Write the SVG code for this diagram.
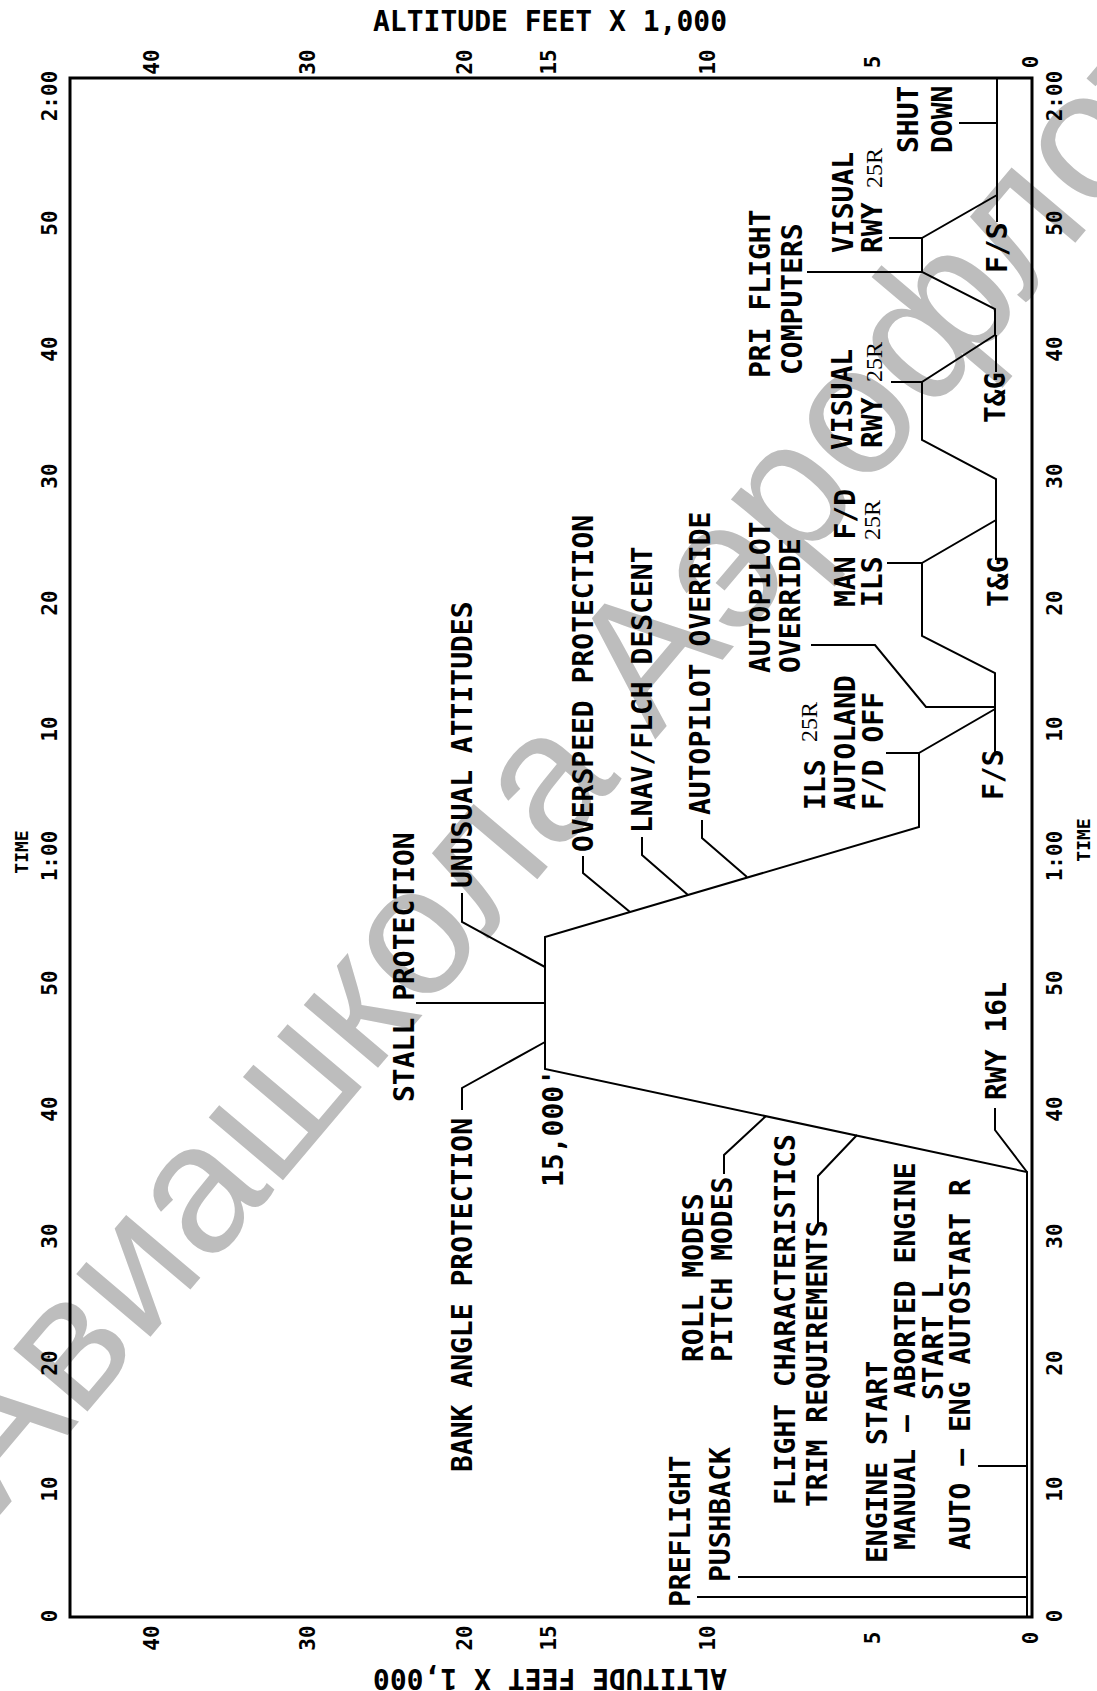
<svg xmlns="http://www.w3.org/2000/svg" width="1097" height="1691" viewBox="0 0 1097 1691">
<style>
.lbl{font-family:"DejaVu Sans Mono","Liberation Mono",monospace;font-weight:bold;font-size:28px;fill:#000}
.ax{font-family:"DejaVu Sans Mono","Liberation Mono",monospace;font-weight:bold;font-size:21px;fill:#000}
.tm{font-family:"DejaVu Sans Mono","Liberation Mono",monospace;font-weight:bold;font-size:18px;fill:#000}
.sm{font-family:"Liberation Serif",serif;font-size:24px;fill:#000}
.ln{stroke:#000;stroke-width:2;fill:none;stroke-linejoin:miter}
.fr{stroke:#000;stroke-width:3;fill:none}
.wm{font-family:"Liberation Sans",Arial,sans-serif;font-size:184px;fill:#bdbdbd}
</style>
<rect width="1097" height="1691" fill="#fff"/>
<g id="watermark">
<text class="wm" transform="translate(0,1515) rotate(-49.8)">Авиашкола Аэрофлот</text>
</g>
<g id="frame">
<path class="fr" d="M70 78 H1032 V1617 H70 Z"/>
</g>
<g id="titles">
<text class="lbl" x="550" y="31" text-anchor="middle">ALTITUDE FEET X 1,000</text>
<text class="lbl" transform="translate(550,1669) rotate(180)" text-anchor="middle">ALTITUDE FEET X 1,000</text>
</g>
<g id="altitude-axis" class="ax" text-anchor="middle">
<text transform="translate(158.5,62) rotate(-90)">40</text>
<text transform="translate(314.5,62) rotate(-90)">30</text>
<text transform="translate(471.5,62) rotate(-90)">20</text>
<text transform="translate(555.5,62) rotate(-90)">15</text>
<text transform="translate(714.5,62) rotate(-90)">10</text>
<text transform="translate(879.5,62) rotate(-90)">5</text>
<text transform="translate(1037.5,62) rotate(-90)">0</text>
<text transform="translate(158.5,1638) rotate(-90)">40</text>
<text transform="translate(314.5,1638) rotate(-90)">30</text>
<text transform="translate(471.5,1638) rotate(-90)">20</text>
<text transform="translate(555.5,1638) rotate(-90)">15</text>
<text transform="translate(714.5,1638) rotate(-90)">10</text>
<text transform="translate(879.5,1638) rotate(-90)">5</text>
<text transform="translate(1037.5,1638) rotate(-90)">0</text>
</g>
<g id="time-axis-left" class="ax" text-anchor="middle">
<text transform="translate(56.5,96) rotate(-90)">2:00</text>
<text transform="translate(56.5,223) rotate(-90)">50</text>
<text transform="translate(56.5,349) rotate(-90)">40</text>
<text transform="translate(56.5,476) rotate(-90)">30</text>
<text transform="translate(56.5,603) rotate(-90)">20</text>
<text transform="translate(56.5,729) rotate(-90)">10</text>
<text transform="translate(56.5,856) rotate(-90)">1:00</text>
<text class="tm" transform="translate(28,852) rotate(-90)">TIME</text>
<text transform="translate(56.5,983) rotate(-90)">50</text>
<text transform="translate(56.5,1109) rotate(-90)">40</text>
<text transform="translate(56.5,1236) rotate(-90)">30</text>
<text transform="translate(56.5,1363) rotate(-90)">20</text>
<text transform="translate(56.5,1489) rotate(-90)">10</text>
<text transform="translate(56.5,1616) rotate(-90)">0</text>
</g>
<g id="time-axis-right" class="ax" text-anchor="middle">
<text transform="translate(1061.5,96) rotate(-90)">2:00</text>
<text transform="translate(1061.5,223) rotate(-90)">50</text>
<text transform="translate(1061.5,349) rotate(-90)">40</text>
<text transform="translate(1061.5,476) rotate(-90)">30</text>
<text transform="translate(1061.5,603) rotate(-90)">20</text>
<text transform="translate(1061.5,729) rotate(-90)">10</text>
<text transform="translate(1061.5,856) rotate(-90)">1:00</text>
<text class="tm" transform="translate(1090,840) rotate(-90)">TIME</text>
<text transform="translate(1061.5,983) rotate(-90)">50</text>
<text transform="translate(1061.5,1109) rotate(-90)">40</text>
<text transform="translate(1061.5,1236) rotate(-90)">30</text>
<text transform="translate(1061.5,1363) rotate(-90)">20</text>
<text transform="translate(1061.5,1489) rotate(-90)">10</text>
<text transform="translate(1061.5,1616) rotate(-90)">0</text>
</g>
<g id="connectors" class="ln">
<path id="profile" d="M1027 1617 V1172 L545 1069 V937 L919 827 V753 L995 709 V673 L922 636 V563 L996 520 V479 L922 440 V382 L995 335 V309 L922 272 V238 L997 195 V78"/>
<path d="M697 1597 H1027"/>
<path d="M738 1577 H1027"/>
<path d="M978 1466 H1027"/>
<path d="M818 1228 V1176 L857 1135"/>
<path d="M724 1174 V1155 L766 1116"/>
<path d="M995 1108 V1130 L1027 1172"/>
<path d="M462 1110 V1088 L545 1042"/>
<path d="M416 1003 H545"/>
<path d="M462 893 V922 L545 967"/>
<path d="M583 856 V873 L630 912"/>
<path d="M642 837 V855 L688 895"/>
<path d="M702 820 V838 L747 877"/>
<path d="M886 753 H919"/>
<path d="M811 645 H875 L926 707 H995"/>
<path d="M887 563 H922"/>
<path d="M995 755 V709"/>
<path d="M996 560 V520"/>
<path d="M891 382 H922"/>
<path d="M996 372 V335"/>
<path d="M807 272 H922"/>
<path d="M889 238 H922"/>
<path d="M997 222 V195"/>
<path d="M959 123 H997"/>
</g>
<g id="preflight"><text class="lbl" transform="translate(690,1607) rotate(-90)">PREFLIGHT</text></g>
<g id="pushback"><text class="lbl" transform="translate(730,1582) rotate(-90)">PUSHBACK</text></g>
<g id="flight-characteristics"><text class="lbl" transform="translate(795,1505) rotate(-90)">FLIGHT CHARACTERISTICS</text><text class="lbl" transform="translate(827,1507) rotate(-90)">TRIM REQUIREMENTS</text></g>
<g id="roll-pitch"><text class="lbl" transform="translate(703,1362) rotate(-90)">ROLL MODES</text><text class="lbl" transform="translate(732,1362) rotate(-90)">PITCH MODES</text></g>
<g id="engine-start"><text class="lbl" transform="translate(887,1563) rotate(-90)">ENGINE START</text><text class="lbl" transform="translate(915,1550) rotate(-90)">MANUAL — ABORTED ENGINE</text><text class="lbl" transform="translate(943,1400) rotate(-90)">START L</text><text class="lbl" transform="translate(970,1550) rotate(-90)">AUTO — ENG AUTOSTART R</text></g>
<g id="bank-angle"><text class="lbl" transform="translate(472,1472) rotate(-90)">BANK ANGLE PROTECTION</text></g>
<g id="alt-15000"><text class="lbl" transform="translate(563,1187) rotate(-90)">15,000'</text></g>
<g id="stall"><text class="lbl" transform="translate(414,1102) rotate(-90)">STALL PROTECTION</text></g>
<g id="unusual"><text class="lbl" transform="translate(472,888) rotate(-90)">UNUSUAL ATTITUDES</text></g>
<g id="overspeed"><text class="lbl" transform="translate(593,852) rotate(-90)">OVERSPEED PROTECTION</text></g>
<g id="lnav"><text class="lbl" transform="translate(652,833) rotate(-90)">LNAV/FLCH DESCENT</text></g>
<g id="ap-override-1"><text class="lbl" transform="translate(710,815) rotate(-90)">AUTOPILOT OVERRIDE</text></g>
<g id="ils-autoland"><text class="lbl" transform="translate(825,810) rotate(-90)">ILS</text><text class="sm" transform="translate(817,742) rotate(-90)">25R</text><text class="lbl" transform="translate(855,810) rotate(-90)">AUTOLAND</text><text class="lbl" transform="translate(883,810) rotate(-90)">F/D OFF</text></g>
<g id="ap-override-2"><text class="lbl" transform="translate(770,673) rotate(-90)">AUTOPILOT</text><text class="lbl" transform="translate(800,673) rotate(-90)">OVERRIDE</text></g>
<g id="man-fd"><text class="lbl" transform="translate(855,607) rotate(-90)">MAN F/D</text><text class="lbl" transform="translate(882,607) rotate(-90)">ILS</text><text class="sm" transform="translate(880,540) rotate(-90)">25R</text></g>
<g id="visual-1"><text class="lbl" transform="translate(852,450) rotate(-90)">VISUAL</text><text class="lbl" transform="translate(882,448) rotate(-90)">RWY</text><text class="sm" transform="translate(882,382) rotate(-90)">25R</text></g>
<g id="visual-2"><text class="lbl" transform="translate(853,253) rotate(-90)">VISUAL</text><text class="lbl" transform="translate(882,253) rotate(-90)">RWY</text><text class="sm" transform="translate(882,188) rotate(-90)">25R</text></g>
<g id="pri-flight"><text class="lbl" transform="translate(770,378) rotate(-90)">PRI FLIGHT</text><text class="lbl" transform="translate(802,375) rotate(-90)">COMPUTERS</text></g>
<g id="shut-down"><text class="lbl" transform="translate(918,153) rotate(-90)">SHUT</text><text class="lbl" transform="translate(952,153) rotate(-90)">DOWN</text></g>
<g id="fs-2"><text class="lbl" transform="translate(1007,273) rotate(-90)">F/S</text></g>
<g id="tg-2"><text class="lbl" transform="translate(1005,423) rotate(-90)">T&amp;G</text></g>
<g id="tg-1"><text class="lbl" transform="translate(1008,607) rotate(-90)">T&amp;G</text></g>
<g id="fs-1"><text class="lbl" transform="translate(1003,800) rotate(-90)">F/S</text></g>
<g id="rwy16l"><text class="lbl" transform="translate(1006,1100) rotate(-90)">RWY 16L</text></g>
</svg>
